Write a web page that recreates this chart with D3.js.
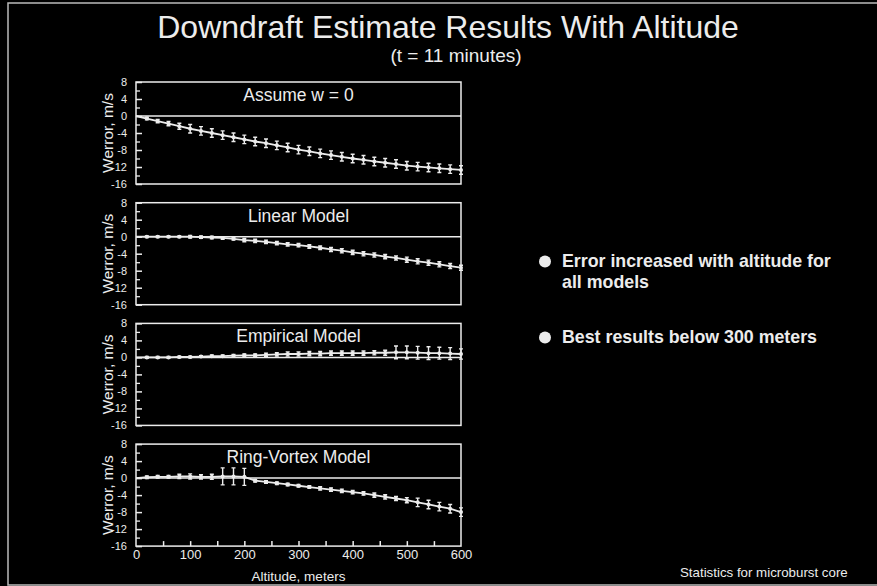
<!DOCTYPE html>
<html>
<head>
<meta charset="utf-8">
<script src="https://cdn.jsdelivr.net/npm/d3@7"></script>
<style>
  body { margin: 0; background: #000; }
  svg { display: block; font-family: "Liberation Sans", Arial, sans-serif; }
</style>
</head>
<body>
<div id="chart"></div>
<script>
// altitudes (m) where the statistics were computed
const altitudes = [0, 20, 40, 60, 80, 100, 120, 140, 160, 180, 200, 220, 240, 260, 280, 300,
  320, 340, 360, 380, 400, 420, 440, 460, 480, 500, 520, 540, 560, 580, 600];

const panelTitles = ["Assume w = 0", "Linear Model", "Empirical Model", "Ring-Vortex Model"];

// mean W error (m/s) for each model
const assumeZero = [0, -0.6, -1.2, -1.8, -2.4, -3.0, -3.5, -4.0, -4.5, -5.0, -5.5, -6.0, -6.4, -6.9, -7.4, -7.9,
  -8.3, -8.8, -9.2, -9.6, -10.0, -10.3, -10.7, -11.0, -11.3, -11.7, -11.9, -12.1, -12.3, -12.5, -12.7];
const linearModel = [0, 0, 0, 0, 0, 0, -0.1, -0.2, -0.3, -0.5, -0.8, -1.0, -1.2, -1.5, -1.8, -2.0,
  -2.3, -2.6, -3.0, -3.3, -3.7, -4.0, -4.3, -4.7, -5.0, -5.4, -5.8, -6.1, -6.5, -6.9, -7.3];
const empiricalModel = [0, 0, 0, 0, 0.1, 0.1, 0.2, 0.3, 0.3, 0.4, 0.5, 0.5, 0.6, 0.7, 0.8, 0.8,
  0.9, 0.9, 1.0, 1.0, 1.0, 1.0, 1.1, 1.1, 1.2, 1.2, 1.1, 1.0, 1.0, 0.9, 0.8];
const ringVortex = [0, 0.2, 0.3, 0.3, 0.4, 0.4, 0.3, 0.3, 0.4, 0.4, 0.3, -0.6, -0.9, -1.2, -1.5, -1.8,
  -2.1, -2.4, -2.7, -3.0, -3.3, -3.6, -4.0, -4.4, -4.8, -5.2, -5.7, -6.2, -6.7, -7.2, -8.0];

// error bar half-heights (m/s)
const assumeZeroErr = [0, 0.3, 0.4, 0.5, 0.7, 1.0, 1.0, 1.0, 1.0, 1.0, 1.0, 1.0, 1.0, 1.0, 1.0, 1.0,
  1.0, 1.0, 1.0, 1.0, 1.0, 1.0, 1.0, 1.0, 1.0, 1.0, 1.0, 1.0, 1.0, 1.0, 1.0];
const linearErr = [0, 0.2, 0.2, 0.2, 0.2, 0.3, 0.3, 0.3, 0.3, 0.3, 0.4, 0.4, 0.4, 0.4, 0.4, 0.4,
  0.4, 0.4, 0.5, 0.5, 0.5, 0.5, 0.5, 0.5, 0.5, 0.6, 0.6, 0.6, 0.6, 0.6, 0.6];
const empiricalErr = [0, 0.2, 0.2, 0.2, 0.2, 0.2, 0.2, 0.3, 0.3, 0.3, 0.3, 0.3, 0.4, 0.4, 0.5, 0.5,
  0.5, 0.5, 0.5, 0.5, 0.5, 0.5, 0.5, 0.6, 1.5, 1.5, 1.5, 1.5, 1.4, 1.4, 1.2];
const ringErr = [0, 0.3, 0.3, 0.3, 0.5, 0.6, 0.5, 0.6, 2.0, 2.0, 2.0, 0.3, 0.3, 0.3, 0.3, 0.3,
  0.3, 0.4, 0.4, 0.4, 0.4, 0.4, 0.5, 0.5, 0.5, 0.6, 1.0, 1.0, 1.0, 1.0, 1.0];

const yTicks = [8, 4, 0, -4, -8, -12, -16];
const xTicks = [0, 100, 200, 300, 400, 500, 600];

const series = [assumeZero, linearModel, empiricalModel, ringVortex];
const errors = [assumeZeroErr, linearErr, empiricalErr, ringErr];

const W = 877, H = 586;
const fg = "#ececec";
const font = "Liberation Sans, Arial, sans-serif";

const svg = d3.select("#chart").append("svg")
    .attr("width", W)
    .attr("height", H);

svg.append("rect").attr("width", W).attr("height", H).attr("fill", "#000");

// frame of the slide
svg.append("rect")
    .attr("x", 8).attr("y", 3)
    .attr("width", 880).attr("height", 582)
    .attr("fill", "none").attr("stroke", "#bbb").attr("stroke-width", 1.5);

// titles
svg.append("text")
    .attr("x", 448).attr("y", 37.5)
    .attr("text-anchor", "middle")
    .attr("fill", fg)
    .style("font-size", "32px")
    .text("Downdraft Estimate Results With Altitude");
svg.append("text")
    .attr("x", 456).attr("y", 62)
    .attr("text-anchor", "middle")
    .attr("fill", fg)
    .style("font-size", "19px")
    .text("(t = 11 minutes)");

const x = d3.scaleLinear().domain([0, 600]).range([136, 461]);
const panelH = 102;

series.forEach((vals, i) => {
    const top = 82 + i * 120.7;
    const y = d3.scaleLinear().domain([-16, 8]).range([top + panelH, top]);
    const g = svg.append("g");

    // frame
    g.append("rect")
        .attr("x", x(0)).attr("y", top)
        .attr("width", x(600) - x(0)).attr("height", panelH)
        .attr("fill", "none").attr("stroke", fg).attr("stroke-width", 1.5);

    // zero line
    g.append("line")
        .attr("x1", x(0)).attr("x2", x(600))
        .attr("y1", y(0)).attr("y2", y(0))
        .attr("stroke", fg).attr("stroke-width", 1.5);

    // left axis: minor ticks every 2, labelled ticks every 4, pointing inward
    const ym = g.append("g").attr("transform", `translate(${x(0)},0)`)
        .call(d3.axisLeft(y).tickValues(d3.range(-14, 8, 4)).tickSize(-4).tickFormat(""));
    ym.select(".domain").remove();
    ym.selectAll("line").attr("stroke", fg).attr("stroke-width", 1.3);
    const ya = g.append("g").attr("transform", `translate(${x(0)},0)`)
        .call(d3.axisLeft(y).tickValues(yTicks).tickSize(-6).tickPadding(9).tickFormat(d => String(d)));
    ya.select(".domain").remove();
    ya.selectAll("line").attr("stroke", fg).attr("stroke-width", 1.5);
    ya.selectAll("text").attr("fill", fg).style("font-size", "11px").style("font-family", font);

    // y label
    g.append("text")
        .attr("transform", `translate(113,${top + panelH / 2}) rotate(-90)`)
        .attr("text-anchor", "middle")
        .attr("fill", fg)
        .style("font-size", "15.5px")
        .text("Werror, m/s");

    // panel title
    g.append("text")
        .attr("x", (x(0) + x(600)) / 2).attr("y", top + 19)
        .attr("text-anchor", "middle")
        .attr("fill", fg)
        .style("font-size", "17.5px")
        .text(panelTitles[i]);

    // line
    const line = d3.line().x((d, j) => x(altitudes[j])).y(d => y(d));
    g.append("path")
        .datum(vals)
        .attr("d", line)
        .attr("fill", "none")
        .attr("stroke", fg)
        .attr("stroke-width", 1.8);

    const pts = vals.map((v, j) => ({a: altitudes[j], v: v, e: errors[i][j]})).filter(d => d.a > 0);

    // error bars
    g.selectAll(".eb").data(pts).join("path")
        .attr("d", d => {
            const cx = x(d.a), y1 = y(d.v + d.e), y2 = y(d.v - d.e);
            return `M${cx},${y1}V${y2}M${cx - 2},${y1}H${cx + 2}M${cx - 2},${y2}H${cx + 2}`;
        })
        .attr("fill", "none")
        .attr("stroke", fg)
        .attr("stroke-width", 1.4);

    // markers
    g.selectAll(".pt").data(pts).join("circle")
        .attr("cx", d => x(d.a))
        .attr("cy", d => y(d.v))
        .attr("r", 2)
        .attr("fill", fg);

    // bottom axis only on the last panel
    if (i === 3) {
        const xa = g.append("g").attr("transform", `translate(0,${top + panelH})`)
            .call(d3.axisBottom(x).tickValues(d3.range(50, 600, 50)).tickSize(-5).tickFormat(""));
        xa.select(".domain").remove();
        xa.selectAll("line").attr("stroke", fg).attr("stroke-width", 1.5);
        const xl = g.append("g").attr("transform", `translate(0,${top + panelH})`)
            .call(d3.axisBottom(x).tickValues(xTicks).tickSize(0).tickPadding(4));
        xl.select(".domain").remove();
        xl.selectAll("text").attr("fill", fg).style("font-size", "13px").style("font-family", font);

        g.append("text")
            .attr("x", (x(0) + x(600)) / 2).attr("y", 581)
            .attr("text-anchor", "middle")
            .attr("fill", fg)
            .style("font-size", "13.5px")
            .text("Altitude, meters");
    }
});

// bullet notes
const notes = [
    {y: 267, lines: ["Error increased with altitude for", "all models"]},
    {y: 343, lines: ["Best results below 300 meters"]}
];
notes.forEach(n => {
    svg.append("circle").attr("cx", 545).attr("cy", n.y - 5.5).attr("r", 6).attr("fill", fg);
    n.lines.forEach((t, k) => {
        svg.append("text")
            .attr("x", 562).attr("y", n.y + k * 20.5)
            .attr("fill", fg)
            .style("font-size", "17.8px")
            .style("font-weight", "bold")
            .text(t);
    });
});

svg.append("text")
    .attr("x", 680).attr("y", 577)
    .attr("fill", fg)
    .style("font-size", "13.3px")
    .text("Statistics for microburst core");
</script>
</body>
</html>
